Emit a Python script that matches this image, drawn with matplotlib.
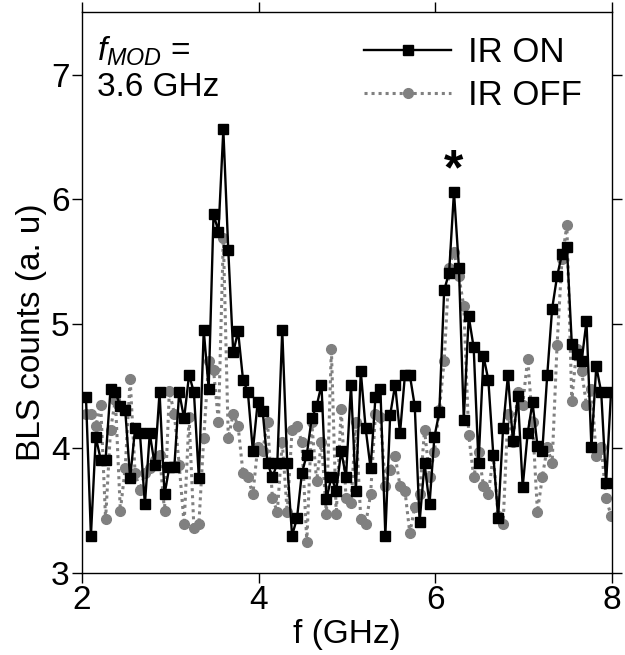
import matplotlib
matplotlib.use("Agg")
import matplotlib.pyplot as plt
from matplotlib.lines import Line2D

plt.rcParams['font.family'] = ['Liberation Sans', 'DejaVu Sans']
plt.rcParams['mathtext.fontset'] = 'custom'
plt.rcParams['mathtext.it'] = 'Liberation Sans:italic'
plt.rcParams['mathtext.rm'] = 'Liberation Sans'

freq = [2.045, 2.101, 2.156, 2.212, 2.267, 2.323, 2.378, 2.434, 2.489, 2.545,
        2.601, 2.656, 2.712, 2.767, 2.823, 2.878, 2.934, 2.989, 3.045, 3.100,
        3.156, 3.212, 3.267, 3.323, 3.378, 3.434, 3.489, 3.545, 3.600, 3.656,
        3.712, 3.767, 3.823, 3.878, 3.934, 3.989, 4.045, 4.100, 4.156, 4.211,
        4.267, 4.323, 4.378, 4.434, 4.489, 4.545, 4.600, 4.656, 4.711, 4.767,
        4.823, 4.878, 4.934, 4.989, 5.045, 5.100, 5.156, 5.211, 5.267, 5.322,
        5.378, 5.434, 5.489, 5.545, 5.600, 5.656, 5.711, 5.767, 5.822, 5.878,
        5.934, 5.989, 6.045, 6.100, 6.156, 6.211, 6.267, 6.322, 6.378, 6.434,
        6.489, 6.545, 6.600, 6.656, 6.711, 6.767, 6.822, 6.878, 6.934, 6.989,
        7.045, 7.100, 7.156, 7.211, 7.267, 7.322, 7.378, 7.434, 7.489, 7.545,
        7.600, 7.656, 7.711, 7.767, 7.822, 7.878, 7.933, 7.989]

ir_on = [4.41, 3.30, 4.09, 3.91, 3.91, 4.48, 4.45, 4.34, 4.31, 3.76,
         4.16, 4.12, 3.55, 4.12, 3.87, 4.45, 3.63, 3.85, 3.85, 4.45,
         4.24, 4.59, 4.45, 3.76, 4.95, 4.48, 5.88, 5.74, 6.56, 5.59,
         4.77, 4.94, 4.55, 4.45, 3.98, 4.37, 4.30, 3.88, 3.77, 3.88,
         4.95, 3.88, 3.30, 3.44, 3.80, 3.95, 4.24, 4.34, 4.51, 3.59,
         3.77, 3.66, 3.98, 3.77, 4.51, 3.66, 4.62, 4.16, 3.84, 4.41,
         4.48, 3.30, 4.27, 4.51, 4.12, 4.59, 4.59, 4.34, 3.41, 3.88,
         3.55, 4.09, 4.29, 5.27, 5.41, 6.06, 5.45, 4.23, 5.06, 4.81,
         3.88, 4.74, 4.55, 3.95, 3.44, 4.16, 4.59, 4.06, 4.42, 3.69,
         4.12, 4.37, 4.02, 3.98, 4.59, 5.12, 5.38, 5.56, 5.62, 4.84,
         4.76, 4.70, 5.02, 4.01, 4.66, 4.45, 3.72, 4.45]

ir_off = [4.28, 4.28, 4.18, 4.35, 3.43, 4.15, 4.39, 3.50, 3.84, 4.56,
          3.80, 3.67, 3.80, 3.84, 3.91, 3.95, 3.50, 4.46, 4.28, 3.87,
          3.39, 4.25, 3.36, 3.39, 4.08, 4.70, 4.63, 4.21, 5.69, 4.08,
          4.28, 4.18, 3.80, 3.77, 3.63, 4.01, 3.98, 4.21, 3.60, 3.49,
          4.05, 3.49, 4.15, 4.18, 4.05, 3.25, 4.21, 3.74, 4.05, 3.47,
          4.80, 3.47, 4.32, 3.60, 3.56, 4.21, 3.43, 3.39, 3.63, 4.28,
          4.25, 3.70, 3.83, 3.94, 3.70, 3.66, 3.32, 3.53, 3.63, 4.15,
          3.77, 3.97, 4.31, 4.70, 5.45, 5.58, 5.38, 5.14, 4.11, 3.77,
          3.97, 3.70, 3.63, 3.95, 3.46, 3.39, 4.28, 4.05, 4.45, 4.35,
          4.72, 4.21, 3.49, 3.77, 4.01, 3.88, 4.83, 5.52, 5.79, 4.38,
          4.80, 4.62, 4.35, 4.48, 3.94, 4.01, 3.60, 3.46]

series_labels = ["IR ON", "IR OFF"]
x_ticks = [2, 4, 6, 8]
y_ticks = [3, 4, 5, 6, 7]
star_f, star_v = 6.211, 6.22

fig = plt.figure(figsize=(6.25, 6.55), dpi=100)
ax = fig.add_axes([0.1312, 0.1252, 0.848, 0.856])

ax.plot(freq, ir_off, linestyle=(0, (1, 1.3)), color='#808080', lw=2.2,
        marker='o', ms=7, mfc='#808080', mec='#808080', zorder=2)
ax.plot(freq, ir_on, linestyle='-', color='black', lw=1.7,
        marker='s', ms=6.8, mfc='black', mec='black', zorder=3)

ax.set_xlim(2, 8)
ax.set_ylim(3, 7.5)
ax.set_xticks(x_ticks)
ax.set_yticks(y_ticks)
ax.tick_params(direction='out', length=7, width=1, labelsize=24,
               top=True, right=True, pad=2)
for s in ax.spines.values():
    s.set_linewidth(1)

ax.set_xlabel("f (GHz)", fontsize=24, labelpad=2)
ax.set_ylabel("BLS counts (a. u)", fontsize=24)
ax.yaxis.set_label_coords(-0.066, 0.43)

ax.text(0.028, 0.96, r"$f_{MOD}$ =" + "\n3.6 GHz", transform=ax.transAxes,
        fontsize=24, va='top', ha='left', linespacing=1.15)

ax.text(star_f, star_v, "*", fontsize=36, fontweight='bold', ha='center',
        va='center')

handles = [Line2D([], [], color='black', lw=1.7, marker='s', ms=6.8),
           Line2D([], [], color='#808080', lw=2.2, linestyle=(0, (1, 1.3)),
                  marker='o', ms=7)]
ax.legend(handles, series_labels, loc='upper right', frameon=False,
          fontsize=25, handlelength=2.5, handletextpad=0.5,
          borderaxespad=0.2, labelspacing=0.3, bbox_to_anchor=(0.983, 0.995))

fig.savefig("out.png", dpi=100)
